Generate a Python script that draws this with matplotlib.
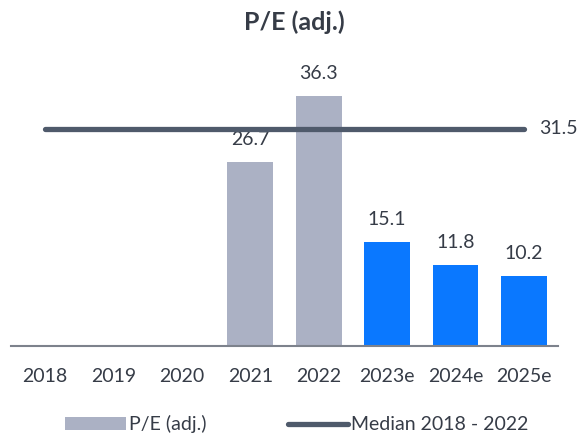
import matplotlib.pyplot as plt
from matplotlib.patches import Patch
from matplotlib.lines import Line2D

years = ['2018', '2019', '2020', '2021', '2022', '2023e', '2024e', '2025e']
pe_values = [None, None, None, 26.7, 36.3, 15.1, 11.8, 10.2]
is_estimate = [False, False, False, False, False, True, True, True]
median_value = 31.5

plt.rcParams['font.family'] = ['Lato', 'DejaVu Sans']
text_color = '#363c47'
gray = '#abb1c4'
blue = '#0a78ff'
median_color = '#4f5a6b'

fig = plt.figure(figsize=(5.88, 4.36), dpi=100)
ax = fig.add_axes([11 / 588, 90 / 436, 547 / 588, 276 / 436])

x = list(range(len(years)))
for i, v in enumerate(pe_values):
    if v is None:
        continue
    c = blue if is_estimate[i] else gray
    ax.bar(i, v, width=0.67, color=c, zorder=2)
    ax.text(i, v + 2.0, f'{v:.1f}', ha='center', va='bottom', fontsize=14, color=text_color)

ax.plot([0, 7], [median_value, median_value], color=median_color, lw=3.8,
        solid_capstyle='round', zorder=3)
ax.text(7.22, median_value, f'{median_value:.1f}', ha='left', va='center',
        fontsize=14, color=text_color, clip_on=False)

ax.set_xlim(-0.5, 7.5)
ax.set_ylim(0, 40)
ax.set_xticks(x)
ax.set_xticklabels(years, fontsize=14, color=text_color)
ax.tick_params(axis='x', length=0, pad=16)
ax.set_yticks([])
for s in ['top', 'right', 'left']:
    ax.spines[s].set_visible(False)
ax.spines['bottom'].set_color('#7d828c')
ax.spines['bottom'].set_linewidth(1.5)

fig.text(0.5, 0.95, 'P/E (adj.)', ha='center', va='center', fontsize=18,
         fontweight='bold', color=text_color)

handles = [Patch(facecolor=gray, edgecolor='none'),
           Line2D([0], [0], color=median_color, lw=3.8, solid_capstyle='round')]
fig.legend(handles, ['P/E (adj.)', 'Median 2018 - 2022'], loc='center',
           bbox_to_anchor=(0.505, 0.027), ncol=2, frameon=False, fontsize=14,
           handlelength=3.1, handleheight=0.6, handletextpad=0.15,
           columnspacing=4.2, labelcolor=text_color)

fig.savefig('out.png', dpi=100)
